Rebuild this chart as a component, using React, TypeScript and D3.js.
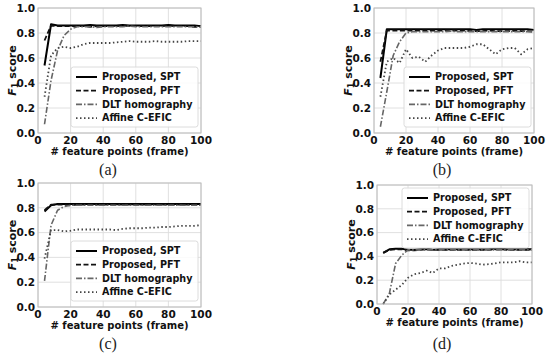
import * as d3 from "d3";

// x positions (number of feature points per frame)
const featurePoints = [4, 8, 12, 16, 20, 24, 28, 32, 36, 40, 44, 48, 52, 56, 60, 64, 68, 72, 76, 80, 84, 88, 92, 96, 100];

const seriesNames = ["Proposed, SPT", "Proposed, PFT", "DLT homography", "Affine C-EFIC"];
const xTicks = [0, 20, 40, 60, 80, 100];
const yTicks = [0, 0.2, 0.4, 0.6, 0.8, 1.0];
const captions = ["(a)", "(b)", "(c)", "(d)"];

// panel (a)
const sptA = [0.54, 0.87, 0.86, 0.86, 0.86, 0.86, 0.86, 0.865, 0.86, 0.86, 0.86, 0.86, 0.865, 0.86, 0.86, 0.86, 0.86, 0.86, 0.86, 0.865, 0.86, 0.86, 0.86, 0.86, 0.855];
const pftA = [0.74, 0.86, 0.855, 0.855, 0.855, 0.855, 0.855, 0.85, 0.855, 0.855, 0.855, 0.855, 0.86, 0.855, 0.855, 0.855, 0.855, 0.855, 0.855, 0.86, 0.855, 0.855, 0.855, 0.85, 0.85];
const dltA = [0.07, 0.42, 0.66, 0.78, 0.83, 0.85, 0.85, 0.85, 0.845, 0.85, 0.85, 0.85, 0.85, 0.855, 0.85, 0.85, 0.85, 0.85, 0.85, 0.85, 0.85, 0.85, 0.85, 0.85, 0.85];
const affA = [0.29, 0.62, 0.68, 0.69, 0.68, 0.69, 0.71, 0.72, 0.72, 0.72, 0.72, 0.725, 0.73, 0.735, 0.73, 0.73, 0.73, 0.735, 0.73, 0.73, 0.73, 0.73, 0.735, 0.735, 0.735];

// panel (b)
const sptB = [0.44, 0.83, 0.83, 0.83, 0.83, 0.83, 0.83, 0.83, 0.83, 0.83, 0.83, 0.83, 0.83, 0.83, 0.83, 0.825, 0.83, 0.83, 0.83, 0.83, 0.83, 0.83, 0.83, 0.83, 0.825];
const pftB = [0.57, 0.82, 0.82, 0.82, 0.82, 0.82, 0.82, 0.82, 0.82, 0.82, 0.82, 0.82, 0.82, 0.82, 0.815, 0.815, 0.815, 0.82, 0.815, 0.815, 0.815, 0.82, 0.815, 0.815, 0.81];
const dltB = [0.05, 0.33, 0.62, 0.73, 0.8, 0.81, 0.81, 0.81, 0.81, 0.81, 0.81, 0.815, 0.81, 0.81, 0.81, 0.81, 0.81, 0.81, 0.81, 0.81, 0.81, 0.81, 0.81, 0.81, 0.81];
const affB = [0.29, 0.57, 0.6, 0.56, 0.67, 0.6, 0.61, 0.57, 0.62, 0.66, 0.68, 0.68, 0.68, 0.68, 0.69, 0.71, 0.71, 0.67, 0.63, 0.67, 0.68, 0.68, 0.63, 0.67, 0.68];

// panel (c)
const sptC = [0.77, 0.82, 0.83, 0.83, 0.83, 0.83, 0.83, 0.83, 0.83, 0.83, 0.83, 0.83, 0.83, 0.83, 0.83, 0.83, 0.83, 0.83, 0.83, 0.83, 0.83, 0.83, 0.83, 0.83, 0.83];
const pftC = [0.78, 0.825, 0.825, 0.825, 0.82, 0.825, 0.825, 0.825, 0.825, 0.825, 0.825, 0.825, 0.825, 0.825, 0.825, 0.825, 0.825, 0.825, 0.825, 0.825, 0.825, 0.825, 0.825, 0.825, 0.825];
const dltC = [0.21, 0.66, 0.78, 0.81, 0.82, 0.82, 0.82, 0.82, 0.82, 0.82, 0.82, 0.82, 0.82, 0.82, 0.82, 0.82, 0.82, 0.82, 0.82, 0.82, 0.82, 0.82, 0.82, 0.82, 0.82];
const affC = [0.39, 0.62, 0.62, 0.61, 0.615, 0.625, 0.625, 0.625, 0.625, 0.625, 0.625, 0.62, 0.63, 0.635, 0.635, 0.635, 0.64, 0.64, 0.645, 0.645, 0.65, 0.655, 0.655, 0.655, 0.66];

// panel (d)
const sptD = [0.43, 0.46, 0.465, 0.465, 0.455, 0.455, 0.46, 0.46, 0.455, 0.46, 0.46, 0.46, 0.46, 0.46, 0.46, 0.46, 0.46, 0.46, 0.465, 0.465, 0.46, 0.46, 0.46, 0.46, 0.46];
const pftD = [0.43, 0.455, 0.46, 0.46, 0.45, 0.45, 0.455, 0.465, 0.455, 0.455, 0.455, 0.455, 0.455, 0.455, 0.455, 0.455, 0.455, 0.455, 0.46, 0.46, 0.455, 0.455, 0.455, 0.455, 0.455];
const dltD = [0.0, 0.09, 0.34, 0.41, 0.455, 0.455, 0.455, 0.455, 0.455, 0.455, 0.455, 0.455, 0.455, 0.455, 0.455, 0.455, 0.455, 0.455, 0.455, 0.455, 0.455, 0.455, 0.455, 0.455, 0.455];
const affD = [0.0, 0.08, 0.12, 0.16, 0.22, 0.25, 0.26, 0.28, 0.26, 0.3, 0.3, 0.32, 0.33, 0.34, 0.345, 0.34, 0.33, 0.335, 0.34, 0.35, 0.35, 0.35, 0.36, 0.35, 0.35];

const panelSeries = [
  [sptA, pftA, dltA, affA],
  [sptB, pftB, dltB, affB],
  [sptC, pftC, dltC, affC],
  [sptD, pftD, dltD, affD],
];

const lineStyles = [
  { stroke: "#000", width: 2, dash: "" },
  { stroke: "#111", width: 1.8, dash: "5,2.5" },
  { stroke: "#666", width: 1.6, dash: "6,2,1.5,2" },
  { stroke: "#444", width: 1.8, dash: "1.5,2.5" },
];

const layouts = [
  { left: 38, right: 201, top: 8, bottom: 133, legendUpper: false, capX: 108, capY: 175 },
  { left: 374, right: 534, top: 8, bottom: 133, legendUpper: false, capX: 442, capY: 175 },
  { left: 38, right: 201, top: 183, bottom: 307, legendUpper: false, capX: 108, capY: 349 },
  { left: 377, right: 532, top: 185, bottom: 304, legendUpper: true, capX: 442, capY: 349 },
];

const FONT = "'DejaVu Sans', sans-serif";

const Panel = ({ idx }: { idx: number }) => {
  const L = layouts[idx];
  const x = d3.scaleLinear().domain([0, 100]).range([L.left, L.right]);
  const y = d3.scaleLinear().domain([0, 1]).range([L.bottom, L.top]);
  const line = d3
    .line<number>()
    .x((_, i) => x(featurePoints[i]))
    .y((d) => y(d));

  const legW = 127;
  const legH = 60;
  const legX = L.right - 3 - legW;
  const legY = L.legendUpper ? L.top + 3 : L.bottom - 6 - legH;
  const midY = (L.top + L.bottom) / 2;

  return (
    <g>
      {/* grid */}
      {xTicks.map((t) => (
        <line key={"gx" + t} x1={x(t)} x2={x(t)} y1={L.top} y2={L.bottom} stroke="#dcdcdc" strokeWidth={0.9} />
      ))}
      {yTicks.map((t) => (
        <line key={"gy" + t} x1={L.left} x2={L.right} y1={y(t)} y2={y(t)} stroke="#dcdcdc" strokeWidth={0.9} />
      ))}
      {/* series */}
      {panelSeries[idx].map((vals, s) => (
        <path
          key={s}
          d={line(vals) || ""}
          fill="none"
          stroke={lineStyles[s].stroke}
          strokeWidth={lineStyles[s].width}
          strokeDasharray={lineStyles[s].dash}
          strokeLinejoin="round"
        />
      ))}
      {/* frame */}
      <rect x={L.left} y={L.top} width={L.right - L.left} height={L.bottom - L.top} fill="none" stroke="#bcbcbc" strokeWidth={1} />
      {/* tick labels */}
      {yTicks.map((t) => (
        <text key={"ty" + t} x={L.left - 3} y={y(t)} dy="0.36em" textAnchor="end" fontFamily={FONT} fontWeight="bold" fontSize={10.5} fill="#111">
          {t.toFixed(1)}
        </text>
      ))}
      {xTicks.map((t) => (
        <text key={"tx" + t} x={x(t)} y={L.bottom + 11} textAnchor="middle" fontFamily={FONT} fontWeight="bold" fontSize={10.5} fill="#111">
          {t}
        </text>
      ))}
      {/* axis labels */}
      <text x={(L.left + L.right) / 2} y={L.bottom + 22} textAnchor="middle" fontFamily={FONT} fontWeight="bold" fontSize={10} fill="#111">
        # feature points (frame)
      </text>
      <text
        transform={`translate(${L.left - 22},${midY}) rotate(-90)`}
        textAnchor="middle"
        fontFamily={FONT}
        fontWeight="bold"
        fontSize={11}
        fill="#111"
      >
        <tspan fontStyle="italic">F</tspan>
        <tspan fontSize={8} dy={2}>1</tspan>
        <tspan dy={-2}> score</tspan>
      </text>
      {/* legend */}
      <rect x={legX} y={legY} width={legW} height={legH} rx={2.5} fill="#fff" fillOpacity={0.85} stroke="#d8d8d8" strokeWidth={0.9} />
      {seriesNames.map((name, s) => {
        const ry = legY + 10 + s * 13.7;
        return (
          <g key={name}>
            <line
              x1={legX + 5}
              x2={legX + 26}
              y1={ry}
              y2={ry}
              stroke={lineStyles[s].stroke}
              strokeWidth={lineStyles[s].width}
              strokeDasharray={lineStyles[s].dash}
            />
            <text x={legX + 31} y={ry} dy="0.35em" fontFamily={FONT} fontWeight="bold" fontSize={9.6} fill="#111">
              {name}
            </text>
          </g>
        );
      })}
      {/* caption */}
      <text x={L.capX} y={L.capY} textAnchor="middle" fontFamily="'Liberation Serif', serif" fontSize={16} fill="#222">
        {captions[idx]}
      </text>
    </g>
  );
};

export default function App() {
  return (
    <svg width={550} height={356} style={{ position: "absolute", left: 0, top: 0, background: "#fff" }}>
      {layouts.map((_, i) => (
        <Panel key={i} idx={i} />
      ))}
    </svg>
  );
}
